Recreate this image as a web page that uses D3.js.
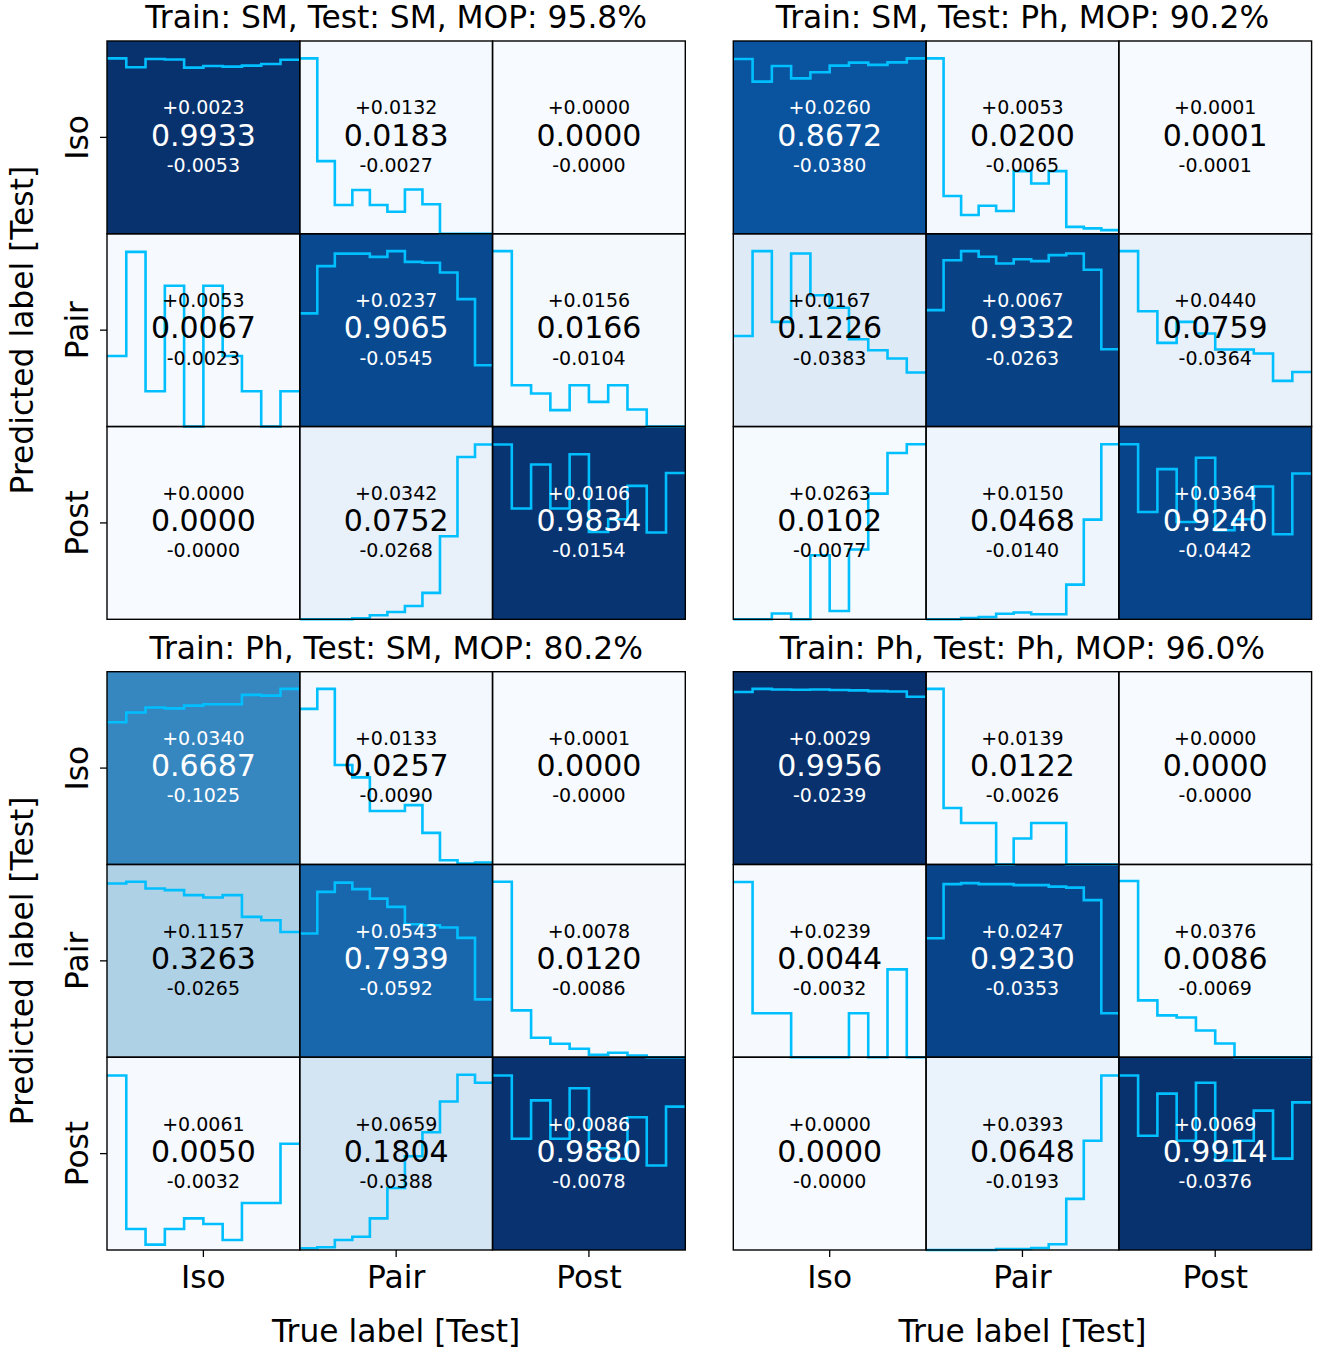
<!DOCTYPE html>
<html><head><meta charset="utf-8">
<script src="https://cdn.jsdelivr.net/npm/d3@7"></script>
<style>body{margin:0;background:#fff}svg{display:block}text{font-family:"DejaVu Sans",sans-serif}</style>
</head><body><svg id="chart" width="1322" height="1351"></svg>
<script>
// ---------------- DATA ----------------
const classes = ["Iso", "Pair", "Post"];
const panelTitles = [
  "Train: SM, Test: SM, MOP: 95.8%",
  "Train: SM, Test: Ph, MOP: 90.2%",
  "Train: Ph, Test: SM, MOP: 80.2%",
  "Train: Ph, Test: Ph, MOP: 96.0%"
];
const yAxisLabel = "Predicted label [Test]";
const xAxisLabel = "True label [Test]";

// confusion matrix values (rows: predicted, cols: true)
const meanSMSM = [[0.9933, 0.0183, 0.0000], [0.0067, 0.9065, 0.0166], [0.0000, 0.0752, 0.9834]];
const plusSMSM = [[0.0023, 0.0132, 0.0000], [0.0053, 0.0237, 0.0156], [0.0000, 0.0342, 0.0106]];
const minusSMSM = [[0.0053, 0.0027, 0.0000], [0.0023, 0.0545, 0.0104], [0.0000, 0.0268, 0.0154]];

const meanSMPh = [[0.8672, 0.0200, 0.0001], [0.1226, 0.9332, 0.0759], [0.0102, 0.0468, 0.9240]];
const plusSMPh = [[0.0260, 0.0053, 0.0001], [0.0167, 0.0067, 0.0440], [0.0263, 0.0150, 0.0364]];
const minusSMPh = [[0.0380, 0.0065, 0.0001], [0.0383, 0.0263, 0.0364], [0.0077, 0.0140, 0.0442]];

const meanPhSM = [[0.6687, 0.0257, 0.0000], [0.3263, 0.7939, 0.0120], [0.0050, 0.1804, 0.9880]];
const plusPhSM = [[0.0340, 0.0133, 0.0001], [0.1157, 0.0543, 0.0078], [0.0061, 0.0659, 0.0086]];
const minusPhSM = [[0.1025, 0.0090, 0.0000], [0.0265, 0.0592, 0.0086], [0.0032, 0.0388, 0.0078]];

const meanPhPh = [[0.9956, 0.0122, 0.0000], [0.0044, 0.9230, 0.0086], [0.0000, 0.0648, 0.9914]];
const plusPhPh = [[0.0029, 0.0139, 0.0000], [0.0239, 0.0247, 0.0376], [0.0000, 0.0393, 0.0069]];
const minusPhPh = [[0.0239, 0.0026, 0.0000], [0.0032, 0.0353, 0.0069], [0.0000, 0.0193, 0.0376]];

// per-cell step histograms (fraction of cell height), null = none
const histSMSM = [
  [[0.910,0.864,0.907,0.904,0.862,0.870,0.867,0.872,0.881,0.903],
   [0.910,0.377,0.149,0.227,0.149,0.114,0.230,0.153,0,0,0],
   null],
  [[0.366,0.906,0.183,0.730,0,0.730,0.366,0.183,0,0.183],
   [0.587,0.832,0.897,0.897,0.880,0.910,0.854,0.850,0.799,0.661,0.318],
   [0.910,0.214,0.171,0.085,0.214,0.128,0.214,0.088,0,0]],
  [null,
   [0,0,0,0.005,0.021,0.038,0.069,0.137,0.431,0.842,0.907],
   [0.907,0.575,0.803,0.575,0.856,0.453,0.519,0.692,0.450,0.759]]
];
const histSMPh = [
  [[0.907,0.789,0.870,0.806,0.838,0.872,0.888,0.876,0.889,0.910],
   [0.910,0.196,0.097,0.145,0.118,0.325,0.261,0.325,0.036,0.028,0.019],
   null],
  [[0.470,0.910,0.543,0.898,0.681,0.616,0.453,0.396,0.353,0.280],
   [0.604,0.863,0.910,0.881,0.846,0.868,0.858,0.889,0.898,0.813,0.401],
   [0.910,0.598,0.434,0.543,0.483,0.400,0.400,0.379,0.237,0.283]],
  [[0,0,0.030,0,0.332,0.043,0.362,0.652,0.863,0.908],
   [0,0,0.007,0.012,0.029,0.035,0.026,0.026,0.180,0.517,0.908],
   [0.908,0.557,0.779,0.505,0.838,0.462,0.519,0.689,0.441,0.756]]
];
const histPhSM = [
  [[0.738,0.788,0.814,0.810,0.824,0.831,0.831,0.880,0.876,0.911],
   [0.807,0.911,0.516,0.452,0.277,0.277,0.308,0.164,0.022,0.005,0.010],
   null],
  [[0.901,0.910,0.875,0.867,0.841,0.829,0.841,0.728,0.711,0.650],
   [0.642,0.858,0.906,0.872,0.823,0.780,0.690,0.685,0.673,0.619,0.300],
   [0.910,0.243,0.101,0.070,0.044,0.013,0.023,0.009,0,0]],
  [[0.905,0.109,0.028,0.109,0.164,0.135,0.052,0.244,0.244,0.551],
   [0.009,0.014,0.052,0.069,0.164,0.322,0.486,0.611,0.770,0.909,0.868],
   [0.905,0.577,0.776,0.577,0.839,0.528,0.473,0.689,0.438,0.744]]
];
const histPhPh = [
  [[0.895,0.911,0.908,0.906,0.908,0.905,0.903,0.899,0.897,0.870],
   [0.911,0.293,0.215,0.215,0,0.135,0.215,0.215,0,0,0],
   null],
  [[0.909,0.228,0.228,0,0,0,0.228,0,0.456,0],
   [0.617,0.898,0.903,0.898,0.898,0.893,0.893,0.885,0.880,0.815,0.228],
   [0.914,0.295,0.217,0.206,0.139,0.071,0,0,0,0]],
  [null,
   [0,0,0,0,0.005,0.005,0.010,0.030,0.265,0.567,0.905],
   [0.905,0.593,0.811,0.567,0.868,0.464,0.567,0.723,0.474,0.766]]
];

// ---------------- DRAW ----------------
const panels = [
  {title: panelTitles[0], mean: meanSMSM, plus: plusSMSM, minus: minusSMSM, hist: histSMSM},
  {title: panelTitles[1], mean: meanSMPh, plus: plusSMPh, minus: minusSMPh, hist: histSMPh},
  {title: panelTitles[2], mean: meanPhSM, plus: plusPhSM, minus: minusPhSM, hist: histPhSM},
  {title: panelTitles[3], mean: meanPhPh, plus: plusPhPh, minus: minusPhPh, hist: histPhPh}
];
const layout = [
  {x0: 107, y0: 41, left: true, bottom: false},
  {x0: 733.3, y0: 41, left: false, bottom: false},
  {x0: 107, y0: 671.7, left: true, bottom: true},
  {x0: 733.3, y0: 671.7, left: false, bottom: true}
];
const S = 578.3;
const BIG = 31.3;
const svg = d3.select("#chart");
svg.append("rect").attr("width", 1322).attr("height", 1351).attr("fill", "#fff");

const blues = d3.scaleLinear()
  .domain(d3.range(9).map(i => i / 8))
  .range(["#f7fbff","#deebf7","#c6dbef","#9ecae1","#6baed6","#4292c6","#2171b5","#08519c","#08306b"])
  .interpolate(d3.interpolateRgb)
  .clamp(true);
const fmt = d3.format(".4f");
const FONT = "DejaVu Sans";

panels.forEach((p, pi) => {
  const L = layout[pi];
  const x = d3.scaleBand().domain(classes).range([L.x0, L.x0 + S]);
  const y = d3.scaleBand().domain(classes).range([L.y0, L.y0 + S]);
  const bw = x.bandwidth(), bh = y.bandwidth();
  const g = svg.append("g");
  const cells = [];
  classes.forEach((rc, r) => classes.forEach((cc, c) => cells.push({r, c, rc, cc})));

  // cells
  g.selectAll("rect.cell").data(cells).join("rect")
    .attr("x", d => x(d.cc)).attr("y", d => y(d.rc))
    .attr("width", bw).attr("height", bh)
    .attr("fill", d => blues(p.mean[d.r][d.c]));

  // step lines
  cells.forEach(d => {
    const h = p.hist[d.r][d.c];
    if (!h) return;
    const n = h.length;
    const xs = d3.scaleLinear().domain([0, n]).range([x(d.cc), x(d.cc) + bw]);
    const ys = d3.scaleLinear().domain([0, 1]).range([y(d.rc) + bh, y(d.rc)]);
    const pts = h.map((v, i) => [i, v]).concat([[n, h[n - 1]]]);
    const line = d3.line().x(q => xs(q[0])).y(q => ys(q[1])).curve(d3.curveStepAfter);
    g.append("path").attr("d", line(pts)).attr("fill", "none")
      .attr("stroke", "#00bfff").attr("stroke-width", 2.6).attr("stroke-linejoin", "miter");
  });

  // borders
  g.selectAll("rect.border").data(cells).join("rect")
    .attr("x", d => x(d.cc)).attr("y", d => y(d.rc))
    .attr("width", bw).attr("height", bh)
    .attr("fill", "none").attr("stroke", "#000").attr("stroke-width", 1.4);

  // texts
  cells.forEach(d => {
    const v = p.mean[d.r][d.c];
    const col = v > 0.5 ? "#fff" : "#000";
    const cx = x(d.cc) + bw / 2, cy = y(d.rc) + bh / 2;
    g.append("text").attr("x", cx).attr("y", cy + 8.3).attr("text-anchor", "middle")
      .attr("font-family", FONT).attr("font-size", 30).attr("fill", col).text(fmt(v));
    g.append("text").attr("x", cx).attr("y", cy - 23).attr("text-anchor", "middle")
      .attr("font-family", FONT).attr("font-size", 19).attr("fill", col).text("+" + fmt(p.plus[d.r][d.c]));
    g.append("text").attr("x", cx).attr("y", cy + 34.4).attr("text-anchor", "middle")
      .attr("font-family", FONT).attr("font-size", 19).attr("fill", col).text("-" + fmt(p.minus[d.r][d.c]));
  });

  // title
  svg.append("text").attr("x", L.x0 + S / 2).attr("y", L.y0 - 13)
    .attr("text-anchor", "middle").attr("font-family", FONT).attr("font-size", BIG)
    .attr("fill", "#000").text(p.title);

  // axes
  if (L.left) {
    const gy = svg.append("g").attr("transform", `translate(${L.x0},0)`)
      .call(d3.axisLeft(y).tickSize(7).tickPadding(0));
    gy.attr("font-family", FONT).attr("font-size", BIG);
    gy.select(".domain").remove();
    gy.selectAll(".tick line").attr("stroke", "#000").attr("stroke-width", 1.3);
    gy.selectAll(".tick text").attr("transform", "rotate(-90)").attr("x", 0).attr("y", -19.5)
      .attr("dy", 0).attr("text-anchor", "middle").attr("fill", "#000");
    svg.append("text").attr("transform", `translate(33,${L.y0 + S / 2}) rotate(-90)`)
      .attr("text-anchor", "middle").attr("font-family", FONT).attr("font-size", BIG)
      .attr("fill", "#000").text(yAxisLabel);
  }
  if (L.bottom) {
    const gx = svg.append("g").attr("transform", `translate(0,${L.y0 + S})`)
      .call(d3.axisBottom(x).tickSize(7).tickPadding(0));
    gx.attr("font-family", FONT).attr("font-size", BIG);
    gx.select(".domain").remove();
    gx.selectAll(".tick line").attr("stroke", "#000").attr("stroke-width", 1.3);
    gx.selectAll(".tick text").attr("y", 37.5).attr("dy", 0).attr("fill", "#000");
    svg.append("text").attr("x", L.x0 + S / 2).attr("y", 1342)
      .attr("text-anchor", "middle").attr("font-family", FONT).attr("font-size", BIG)
      .attr("fill", "#000").text(xAxisLabel);
  }
});
</script></body></html>
